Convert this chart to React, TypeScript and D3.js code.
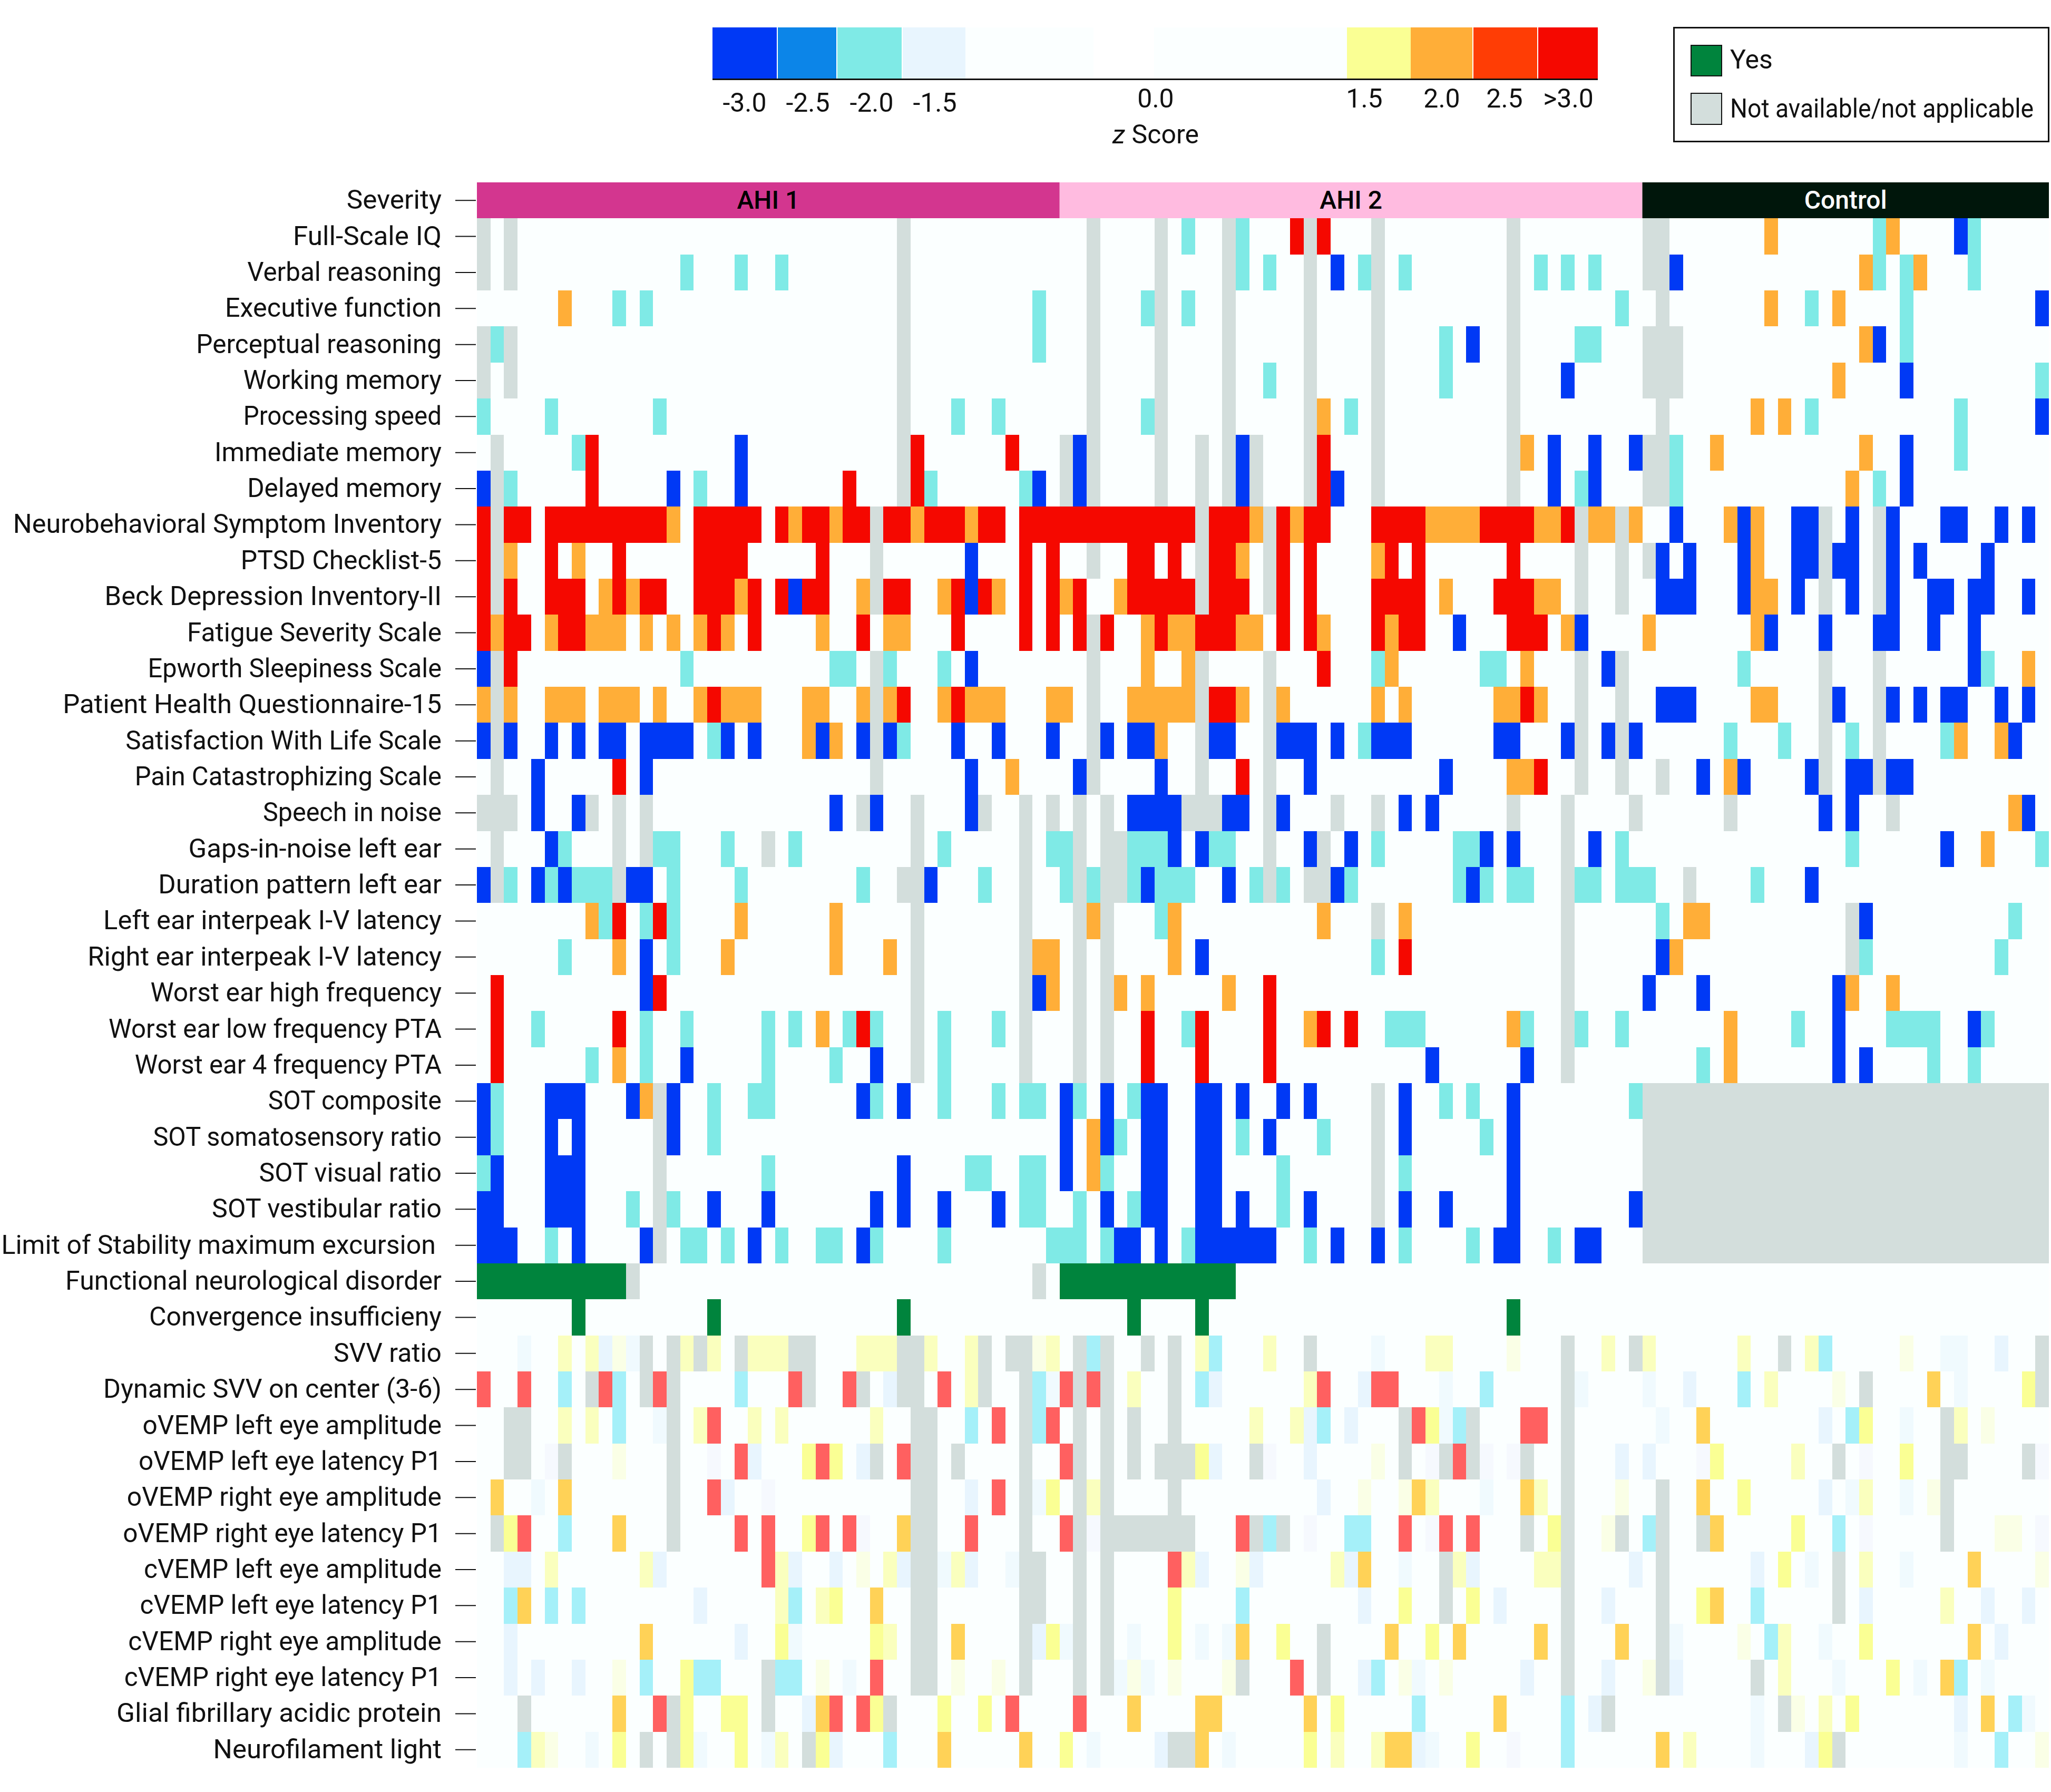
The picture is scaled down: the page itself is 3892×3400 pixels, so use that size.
import React from "react";
import * as d3 from "d3";

const rowLabels = ["Severity","Full-Scale IQ","Verbal reasoning","Executive function","Perceptual reasoning","Working memory","Processing speed","Immediate memory","Delayed memory","Neurobehavioral Symptom Inventory","PTSD Checklist-5","Beck Depression Inventory-II","Fatigue Severity Scale","Epworth Sleepiness Scale","Patient Health Questionnaire-15","Satisfaction With Life Scale","Pain Catastrophizing Scale","Speech in noise","Gaps-in-noise left ear","Duration pattern left ear","Left ear interpeak I-V latency","Right ear interpeak I-V latency","Worst ear high frequency","Worst ear low frequency PTA","Worst ear 4 frequency PTA","SOT composite","SOT somatosensory ratio","SOT visual ratio","SOT vestibular ratio","Limit of Stability maximum excursion ","Functional neurological disorder","Convergence insufficieny","SVV ratio","Dynamic SVV on center (3-6)","oVEMP left eye amplitude","oVEMP left eye latency P1","oVEMP right eye amplitude","oVEMP right eye latency P1","cVEMP left eye amplitude","cVEMP left eye latency P1","cVEMP right eye amplitude","cVEMP right eye latency P1","Glial fibrillary acidic protein","Neurofilament light"];
const labelLeft = [265,224,189,172,150,186,186,164,189,10,184,80,143,113,48,96,103,201,144,121,79,67,115,83,103,205,117,198,162,1,50,114,255,79,109,106,97,94,110,107,98,95,89,163];

const groups = ["AHI 1", "AHI 2", "Control"];
const groupSizes = [43, 43, 30];
const groupFill = ["#D3368F", "#FFBBE0", "#00160B"];
const groupText = ["#000000", "#000000", "#FFFFFF"];

const codes = ["n","b","c","r","o","g","s","l","y","a","t","u","v","w","z","."];
const codeColors = ["#D3DEDC","#0039F5","#7FEAE6","#F50800","#FFAE38","#00843D","#FF6060","#FAFF94","#FAFFBE","#FFD257","#A5F0F9","#E8F5FE","#F0FAFE","#F6F9FE","#FAFFE6","#FBFFFF"];

const ahi1Cells = [
"n:0,2,31","n:0,2,31 c:15,19,22","o:6 c:10,12,41 n:31","n:0,2,31 c:1,41","n:0,2,31","c:0,5,13,35,38 n:31",
"n:1,31 c:7 r:8,32,39 b:19","b:0,14,19,41 n:1,31 c:2,16,33,40 r:8,27,32",
"r:0,2,3,5-13,16-20,22,24,25,27,28,30,31,33-35,37,38,40-42 n:1,29 o:14,23,26,32,36",
"r:0,5,10,16-19,25,40,42 n:1,29 o:2,7 b:36",
"r:0,2,5-7,10,12,13,16-18,20,22,24,25,30,31,35,37,40,42 n:1,29 o:9,11,19,28,34,38 b:23,36",
"r:0,2,3,6,7,17,20,28,35,40,42 o:1,5,8-10,12,14,16,18,25,30,31",
"b:0,36 n:1,29 r:2 c:15,26,27,30,34",
"o:0,2,5-7,9-11,13,16,18-20,24,25,28,30,34,36-38,42 n:1,29 r:17,31,35",
"b:0,2,5,7,9,10,12-15,18,20,25,28,30,35,38,42 n:1,29 c:17,31 o:24,26",
"n:1,29 b:4,12,36 r:10 o:39",
"n:0-2,8,10,12,28,32,37,40,42 b:4,7,26,29,36",
"n:1,10,12,21,32,40 b:5 c:6,13,14,18,23,34,42",
"b:0,4,6,11,12,33 n:1,10,31,32,40 c:2,5,7-9,14,19,28,37",
"o:8,19,26 c:9,12,14 r:10,13 n:32,40",
"c:6,14 o:10,18,26,30,41,42 b:12 n:32,40",
"r:1,13 b:12,41 n:32,40 o:42",
"r:1,10,28 c:4,12,15,21,23,27,29,34,38 o:25 n:32,40",
"r:1 c:8,12,21,26,34 o:10 b:15,29 n:32,40",
"b:0,5-7,11,14,28,31 c:1,17,20,21,29,34,38,40,41 o:12 n:13",
"b:0,5,7,14 c:1,17 n:13",
"c:0,21,36,37,40,41 b:1,5-7,31 n:13",
"b:0,1,5-7,17,21,29,31,34,38 c:11,14,40,41 n:13",
"b:0-2,7,12,20,28 c:5,15,16,18,22,25,26,29,34,42 n:13",
"g:0-10 n:11,41","g:7,17,31",
"v:3,11 y:6,8,15,17,20-22,28-30,33,36,42 u:9 z:10,41 n:12,14,16,19,23,24,31,32,37,39,40",
"s:0,3,9,13,23,27,34 t:6,10,19,41 n:8,12,14,24,28,31,32,37,40 u:30 y:36 v:42",
"n:2,3,14,32,33,40 y:6,8,16,20,22,29 t:10,36,41 v:13 s:17,38,42",
"n:2,3,6,14,29,32,33,35,40 w:5,17 z:10 s:19,25,31 u:20,28 l:24,26",
"a:1,6 v:4,41 n:14,32,33,40 s:17,38 u:18,36 w:21 l:42",
"n:1,14,32,33,40 l:2,24 s:3,19,21,25,27,36 t:6 a:10,31 w:28",
"u:2,3,13,23,26,31,36 y:5,12,22,30,35 s:21 z:28 n:32,33,40,41 v:34,39",
"t:2,5,7,23 a:3,29 u:16 y:22,25 l:26 n:32,33,40,41",
"u:2,19,41 a:12,35 l:22,29,42 v:23 y:30 n:32,33,40",
"u:2,4,7 z:10,25,35,38 t:12,16,17,22,23 l:15 n:21,32,33,40 v:27 s:29",
"n:3,14,21,30 a:10,25 s:13,26,28,39 l:15,18,19,29,34,37 u:24",
"t:3,30 y:4,22 z:5 v:8,16,21 l:10,15,19,25 n:12,14,24 u:26 a:34,40",
];

const ahi2Cells = [
"n:2,7,12,18,23,33 c:9,13 r:17,19",
"n:2,7,12,18,23,33 c:13,15,22,25,35,37,39 b:20",
"n:2,7,12,18,23,33 c:6,9,41",
"n:2,7,12,18,23,33 c:28,38,39 b:30",
"n:2,7,12,18,23,33 c:15,28 b:37",
"n:2,7,12,18,23,33 c:6,21 o:19",
"n:0,2,7,10,12,14,18,23,33 b:1,13,36,39,42 r:19 o:34",
"n:0,2,7,10,12,14,18,23,33 b:1,13,20,36,39 r:19 c:38",
"r:0-9,11-13,16,18,19,23-26,31-34,37 n:10,15,38,41 o:14,17,27-30,35,36,39,40,42",
"n:2,10,15,38,41 r:5,6,8,11,12,16,18,24,26,33 o:13,23",
"o:0,4,28,35,36 r:1,5-9,11-13,16,18,23-26,32-34 n:10,15,38,41",
"r:1,3,7,10-12,16,18,23,25,26,33-35 n:2 o:6,8,9,13,14,19,24,37 b:29,38",
"n:2,10,15,38,41 o:6,9,24,34 r:19 c:23,31,32 b:40",
"o:0,5-9,13,16,23,25,32,33,35 n:2,10,15,38,41 r:11,12,34",
"n:2,10,15,38,41 b:3,5,6,11,12,16-18,20,23-25,32,33,37,40,42 o:7 c:22",
"b:1,7,18,28 n:2,10,15,38,41 r:13,35 o:33,34",
"n:1,3,9-11,15,20,23,33,37,42 b:5-8,12,13,16,25,27",
"c:0,5-7,11,12,23,29,30,41 n:1,3,4,15,19,37 b:8,10,18,21,31,33,39",
"c:0,2,5,7-9,14,16,21,29,31,33,34,38,39,41,42 n:1,3,4,15,18,19,37 b:6,12,20,30",
"n:1,3,23,37 o:2,8,19,25 c:7",
"n:1,3,37 o:8 b:10 c:23 r:25",
"n:1,3,37 o:4,6,12 r:15",
"n:1,3,37 r:6,10,15,19,21 c:9,24-26,34,38,41 o:18,33",
"n:1,3,37 r:6,10,15 b:27,34",
"b:0,3,6,7,10,11,13,16,18,25,33 c:1,5,28,30,42 n:23",
"b:0,3,6,7,10,11,15,25,33 o:2 c:4,13,19,31 n:23",
"b:0,6,7,10,11,33 o:2 c:3,16,25 n:23",
"c:1,5,16 b:3,6,7,10,11,13,18,25,28,33,42 n:23",
"c:0,1,3,9,18,25,30,36 b:4,5,7,10-15,20,23,32,33,38,39",
"g:0-12","g:5,10,33",
"n:1,3,6,8,18,37,42 t:2,11 y:10,15,27,28,40 v:23 z:33",
"s:0,2,19,23,24 n:1,3,8,37 y:5,18 t:10,31 u:11,22 v:28,38",
"n:1,3,5,8,25,30,37 y:14,17 u:18,21 t:19,29 s:26,34,35 l:27 v:28",
"s:0,29 n:1,3,5,7-9,14,25,28,30,34,37 l:10 u:11,18,41 w:15,27,31,33 z:23",
"n:1,3,8,37 y:2,27,35 u:19 z:22,25,41 a:26,34 v:31",
"s:0,13,25,28,30 n:1,3-9,14,16,34,37,41 w:2,18,27 t:15,21,22 l:36 z:40",
"n:1,3,28,37 s:8 y:9,20,29,35,36 u:10,14,21,30,42 z:13 a:22 v:25",
"n:1,3,28,37 l:8,25,30 t:13 u:22,32,40",
"v:0,5,10,12 n:1,3,19,37 l:8,16,27 a:13,24,29,35,41",
"n:1,3,13,19,37 v:4,6,26 z:5,8,12,25,28 s:17 u:22,34,40 t:23",
"s:1 a:5,10,11,18,32 l:20 t:26,37 u:39 n:40",
"l:0,18,30 v:2,12,27 u:7,26 n:8,9 a:10,24,25 y:20,23 w:33 t:37",
];

const controlCells = [
"n:0,1 o:9,18 c:17,24 b:23","n:0,1 b:2 o:16,20 c:17,19,24","n:1 o:9,14 c:12,19 b:29","n:0-2 o:16 b:17 c:19",
"n:0-2 o:14 b:19 c:29","n:1 o:8,10 c:12,23 b:29","n:0,1 c:2,23 o:5,16 b:19","n:0,1 c:2,17 o:15 b:19",
"b:2,7,11,12,15,18,22,23,26,28 o:6,8 n:13,17",
"n:0,13,17 b:1,3,7,11,12,14,15,18,20,25 o:8",
"b:1-3,7,11,15,18,21,22,24,25,28 o:8,9 n:13,17",
"o:0,8 b:9,13,17,18,21,24",
"c:7,25 n:13,17 b:24 o:28",
"b:1-3,14,18,20,22,23,26,28 o:8,9 n:13,17",
"c:6,10,15,22 n:13,17 o:23,26 b:27",
"n:1,13,17 b:4,7,12,15,16,18,19 o:6",
"n:6,18 b:13,15,28 o:27","c:15,29 b:22 o:25","c:0,8 n:3 b:12","c:1,27 o:3,4 n:15 b:16","b:1 o:2 n:15 c:16,26",
"b:0,4,14 o:15,18","o:6 c:11,18-21,25 b:14,24","c:4,21,24 o:6 b:14,16",
"n:0-29","n:0-29","n:0-29","n:0-29","n:0-29","","",
"y:0,7,12 n:10,29 t:13 z:19 v:22,23 u:26",
"v:0,23 u:3 t:7 y:9 z:14 n:16,29 a:21 l:28",
"v:1,19 a:4 u:13 t:15 l:16 n:22 y:23 z:25",
"u:0 w:4,16,29 l:5,19 y:11 n:14,22,23,28",
"n:1,22 a:4 l:7 u:13 v:15,19 y:16 z:21",
"t:0,14 n:1,4,22 a:5 l:11 w:16,29 z:26,27",
"n:1,14 u:8 l:10 v:12,19 y:16 a:24 z:29",
"n:1,14 l:4 a:5 t:8 u:16,25,28 y:22",
"n:1 v:2,13 z:7 t:9 y:10 l:16 a:24 u:26",
"z:0 n:1,8 u:2 y:10 v:14,20,25 l:18 a:22 t:23",
"v:8,28 n:10 z:11 y:13 l:15 u:23 a:25 t:27",
"a:1 y:3 v:8,23 u:12 l:13 n:14 t:26 z:29",
];

const legendTicks = ["-3.0","-2.5","-2.0","-1.5","0.0","1.5","2.0","2.5",">3.0"];
const legendTickX = [1413,1533,1654,1774,2193,2589,2736,2855,2976];
const legendTickY = [212,212,212,212,204,204,204,204,204];
const legendEdges = [1352,1476,1589,1713,1832,2075,2190,2556,2677,2796,2919,3032];
const legendFill = ["#0039F5","#0C85E8","#7FEAE6","#E8F5FE","#FBFFFF","#FFFFFF","#FBFFFF","#FAFF94","#FFAE38","#FF3D05","#F50800"];

const FONT = "'Roboto',sans-serif";

function parse(spec: string, size: number): string[] {
  const out = new Array(size).fill(".");
  spec.split(" ").filter(Boolean).forEach((part) => {
    const [code, list] = part.split(":");
    list.split(",").forEach((item) => {
      const [a, b] = item.split("-").map(Number);
      d3.range(a, (b ?? a) + 1).forEach((i) => (out[i] = code));
    });
  });
  return out;
}

export default function App() {
  const total = d3.sum(groupSizes);
  const x = d3.scaleBand<number>().domain(d3.range(total)).range([905, 3888]);
  const y = d3.scaleBand<string>().domain(rowLabels).range([346, 3354]);
  const color = d3.scaleOrdinal<string, string>().domain(codes).range(codeColors);
  const offsets = [0, groupSizes[0], groupSizes[0] + groupSizes[1]];
  const dataRows = rowLabels.slice(1);
  const cells = dataRows.flatMap((label, r) => {
    const row = [...parse(ahi1Cells[r], 43), ...parse(ahi2Cells[r], 43), ...parse(controlCells[r], 30)];
    return row.map((code, c) => ({ label, c, code }));
  });
  const bw = x.bandwidth();
  const bh = y.bandwidth();
  return (
    <svg width={3892} height={3400} style={{ position: "absolute", left: 0, top: 0, background: "#fff" }} fontFamily={FONT} fill="#111">
      {/* colour bar */}
      {legendFill.map((f, i) => (
        <rect key={i} x={legendEdges[i]} y={52} width={legendEdges[i + 1] - legendEdges[i] - (i < 3 || (i > 7 && i < 10) ? 2 : 0)} height={97} fill={f} />
      ))}
      <rect x={1352} y={149} width={1680} height={3} fill="#111" />
      {legendTicks.map((t, i) => (
        <text key={t} x={legendTickX[i]} y={legendTickY[i]} textAnchor="middle" fontSize={50}>{t}</text>
      ))}
      <text x={2193} y={272} textAnchor="middle" fontSize={50}><tspan fontStyle="italic">z</tspan> Score</text>
      {/* key */}
      <rect x={3176.5} y={52.5} width={711} height={216} fill="#fff" stroke="#111" strokeWidth={3} />
      <rect x={3209} y={86} width={58} height={58} fill="#00843D" stroke="#111" strokeWidth={2} />
      <rect x={3209} y={177} width={58} height={59} fill="#D3DEDC" stroke="#111" strokeWidth={2} />
      <text x={3283} y={130} fontSize={50}>Yes</text>
      <text x={3283} y={223} fontSize={50} textLength={576} lengthAdjust="spacingAndGlyphs">Not available/not applicable</text>
      {/* severity */}
      {groups.map((g, i) => {
        const x0 = x(offsets[i])!;
        const x1 = x(offsets[i] + groupSizes[i] - 1)! + bw;
        return (
          <g key={g}>
            <rect x={x0} y={y("Severity")!} width={x1 - x0} height={bh} fill={groupFill[i]} />
            <text x={(x0 + x1) / 2} y={396} textAnchor="middle" fontSize={48} fontWeight={500} fill={groupText[i]}>{g}</text>
          </g>
        );
      })}
      {/* cells */}
      <g shapeRendering="crispEdges">
        {cells.map((d) => (
          <rect key={d.label + d.c} x={x(d.c)} y={y(d.label)} width={bw} height={bh} fill={color(d.code)} />
        ))}
      </g>
      {/* row axis */}
      {rowLabels.map((l, i) => {
        const cy = y(l)! + bh / 2;
        const right = l.endsWith(" ") ? 827 : 838;
        const left = labelLeft[i] * (3892 / 1568);
        return (
          <g key={l}>
            <line x1={864} x2={903} y1={cy} y2={cy} stroke="#111" strokeWidth={2} />
            <text x={left} y={cy + 16} fontSize={50} textLength={right - left} lengthAdjust="spacingAndGlyphs">{l.trim()}</text>
          </g>
        );
      })}
    </svg>
  );
}
